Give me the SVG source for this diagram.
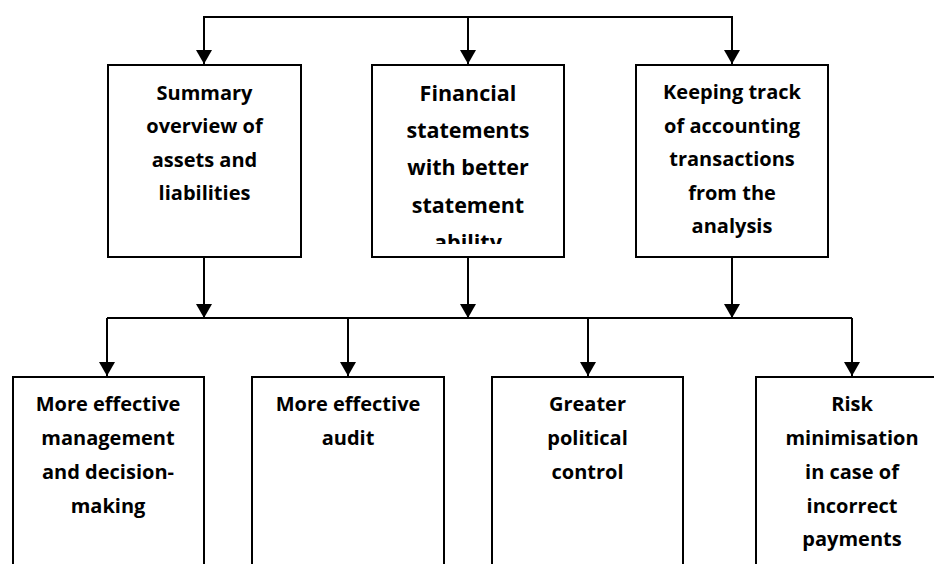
<svg xmlns="http://www.w3.org/2000/svg" width="934" height="564" viewBox="0 0 934 564">
<style>
.box{fill:#fff;stroke:#000;stroke-width:2}
.ln{fill:none;stroke:#000;stroke-width:2}
.t{font-family:"Open Sans","Liberation Sans",sans-serif;font-weight:bold;font-size:20px;fill:#000;text-anchor:middle}
.t2{font-size:21.5px}
</style>
<defs>
<marker id="ah" markerUnits="userSpaceOnUse" viewBox="0 0 14 16" markerWidth="14" markerHeight="16" refX="14" refY="8" orient="auto">
<path d="M0,0 L14,8 L0,16 z" fill="#000"/>
</marker>
<clipPath id="c2"><rect x="372" y="66" width="192" height="178"/></clipPath>
</defs>
<rect width="934" height="564" fill="#fff"/>
<g id="connectors">
<path class="ln" d="M204,64 V17 H732 V64" marker-end="url(#ah)"/>
<path class="ln" d="M204,17 V64" marker-end="url(#ah)"/>
<path class="ln" d="M468,17 V64" marker-end="url(#ah)"/>
<path class="ln" d="M204,257 V318" marker-end="url(#ah)"/>
<path class="ln" d="M468,257 V318" marker-end="url(#ah)"/>
<path class="ln" d="M732,257 V318" marker-end="url(#ah)"/>
<path class="ln" d="M107,318 H852"/>
<path class="ln" d="M107,318 V376" marker-end="url(#ah)"/>
<path class="ln" d="M348,318 V376" marker-end="url(#ah)"/>
<path class="ln" d="M588,318 V376" marker-end="url(#ah)"/>
<path class="ln" d="M852,318 V376" marker-end="url(#ah)"/>
</g>
<g id="n1">
<rect class="box" x="108" y="65" width="193" height="192"/>
<text class="t" x="204.5" y="99.5">Summary</text>
<text class="t" x="204.5" y="133">overview of</text>
<text class="t" x="204.5" y="166.5">assets and</text>
<text class="t" x="204.5" y="200">liabilities</text>
</g>
<g id="n2">
<rect class="box" x="372" y="65" width="192" height="192"/>
<g clip-path="url(#c2)">
<text class="t t2" x="468" y="101">Financial</text>
<text class="t t2" x="468" y="138">statements</text>
<text class="t t2" x="468" y="175">with better</text>
<text class="t t2" x="468" y="212.5">statement</text>
<text class="t t2" x="468" y="250">ability</text>
</g>
</g>
<g id="n3">
<rect class="box" x="636" y="65" width="192" height="192"/>
<text class="t" x="732" y="99">Keeping track</text>
<text class="t" x="732" y="132.5">of accounting</text>
<text class="t" x="732" y="166">transactions</text>
<text class="t" x="732" y="199.5">from the</text>
<text class="t" x="732" y="233">analysis</text>
</g>
<g id="n4">
<rect class="box" x="13" y="377" width="191" height="200"/>
<text class="t" x="108" y="410.5">More effective</text>
<text class="t" x="108" y="444.5">management</text>
<text class="t" x="108" y="478.5">and decision-</text>
<text class="t" x="108" y="512.5">making</text>
</g>
<g id="n5">
<rect class="box" x="252" y="377" width="192" height="200"/>
<text class="t" x="348" y="410.5">More effective</text>
<text class="t" x="348" y="444.5">audit</text>
</g>
<g id="n6">
<rect class="box" x="492" y="377" width="191" height="200"/>
<text class="t" x="587.5" y="410.5">Greater</text>
<text class="t" x="587.5" y="444.5">political</text>
<text class="t" x="587.5" y="478.5">control</text>
</g>
<g id="n7">
<rect class="box" x="756" y="377" width="192" height="200"/>
<text class="t" x="852" y="410.5">Risk</text>
<text class="t" x="852" y="444.5">minimisation</text>
<text class="t" x="852" y="478.5">in case of</text>
<text class="t" x="852" y="512.5">incorrect</text>
<text class="t" x="852" y="546">payments</text>
</g>
</svg>
